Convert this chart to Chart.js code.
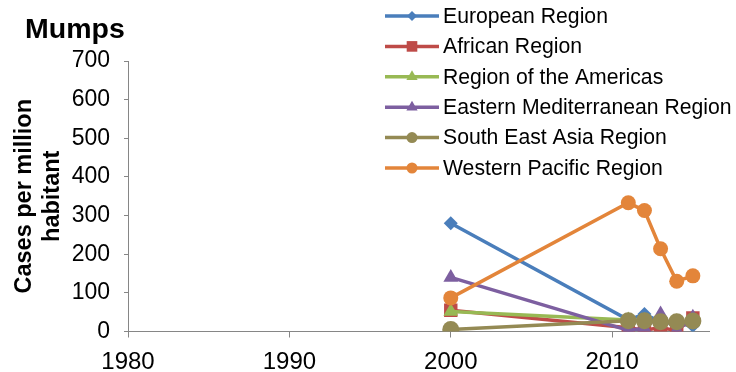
<!DOCTYPE html>
<html>
<head>
<meta charset="utf-8">
<script src="https://cdn.jsdelivr.net/npm/chart.js@4"></script>
<style>
  html,body{margin:0;padding:0;background:#fff}
  canvas{display:block}
</style>
</head>
<body>
<canvas id="mumpsChart" width="736" height="372"></canvas>
<script>
// data
const chartTitle = 'Mumps';
const yTitle = ['Cases per million', 'habitant'];
const years = [2000, 2011, 2012, 2013, 2014, 2015];
const european      = [280, 30, 45, 25, 20, 15];
const african       = [55, 10, 3, 10, 2, 35];
const americas      = [52, 30, 28, 25, 25, 25];
const easternMed    = [140, 3, 8, 45, 3, 37];
const southEastAsia = [5, 28, 28, 25, 25, 27];
const westernPac    = [87, 333, 313, 214, 130, 144];
const regionNames = ['European Region', 'African Region', 'Region of the Americas',
  'Eastern Mediterranean Region', 'South East Asia Region', 'Western Pacific Region'];
const xTicks = [1980, 1990, 2000, 2010];
const yTicks = [0, 100, 200, 300, 400, 500, 600, 700];

const FONT = '"Liberation Sans", Arial, sans-serif';
const colors = ['#4A7EBB', '#BE4B48', '#98B954', '#7D5FA0', '#948A54', '#E3853A'];
const markers = ['rectRot', 'rect', 'triangle', 'triangle', 'circle', 'circle'];
const sizes = [7, 9.5, 8.5, 8.5, 8.5, 7.5];
const legendSizes = [5, 7.5, 6.5, 6.5, 5.5, 5.5];

const allSeries = [european, african, americas, easternMed, southEastAsia, westernPac];

function drawMarker(ctx, style, r, x, y){
  if (Chart.helpers && Chart.helpers.drawPoint) {
    Chart.helpers.drawPoint(ctx, {pointStyle: style, radius: r, rotation: 0, borderWidth: 0}, x, y);
    return;
  }
  ctx.beginPath();
  ctx.arc(x, y, r, 0, Math.PI * 2);
  ctx.fill();
}

const chrome = {
  id: 'chrome',
  afterDraw(chart){
    const ctx = chart.ctx;
    ctx.save();
    ctx.fillStyle = '#000';
    ctx.textAlign = 'left';
    ctx.textBaseline = 'middle';
    ctx.font = 'bold 28.5px ' + FONT;
    ctx.fillText(chartTitle, 25, 30);
    // legend, drawn over the plot like the original
    ctx.font = '21.2px ' + FONT;
    chart.data.datasets.forEach((ds, i) => {
      const y = 16 + i * 30.4;
      ctx.strokeStyle = ds.borderColor;
      ctx.lineWidth = 3.5;
      ctx.beginPath(); ctx.moveTo(385, y); ctx.lineTo(439, y); ctx.stroke();
      ctx.fillStyle = ds.borderColor;
      drawMarker(ctx, markers[i], legendSizes[i], 412, y);
      ctx.fillStyle = '#000';
      ctx.fillText(ds.label, 443, y + 1);
    });
    ctx.restore();
  }
};

new Chart(document.getElementById('mumpsChart'), {
  type: 'line',
  data: {
    datasets: allSeries.map((s, i) => ({
      label: regionNames[i],
      data: years.map((x, j) => ({x: x, y: s[j]})),
      borderColor: colors[i],
      backgroundColor: colors[i],
      pointBackgroundColor: colors[i],
      pointBorderWidth: 0,
      pointStyle: markers[i],
      pointRadius: sizes[i],
      borderWidth: 3.5,
      tension: 0,
      order: allSeries.length - i
    }))
  },
  options: {
    responsive: false,
    animation: false,
    layout: {padding: {top: 61, left: 10, right: 27, bottom: 0}},
    plugins: {legend: {display: false}, tooltip: {enabled: false}, title: {display: false}},
    scales: {
      x: {
        type: 'linear', min: 1980, max: 2016,
        afterBuildTicks: s => { s.ticks = xTicks.map(v => ({value: v})); },
        afterFit: s => { s.height = 40.5; },
        border: {color: '#868686', width: 1},
        grid: {drawOnChartArea: false, tickLength: 6, color: '#868686'},
        ticks: {font: {family: FONT, size: 24}, color: '#000', padding: 10, maxRotation: 0, autoSkip: false,
          callback: v => String(v)}
      },
      y: {
        min: 0, max: 700,
        afterBuildTicks: s => { s.ticks = yTicks.map(v => ({value: v})); },
        afterFit: s => { s.width = 118; },
        border: {color: '#868686', width: 1},
        grid: {drawOnChartArea: false, tickLength: 4, color: '#868686'},
        ticks: {font: {family: FONT, size: 23}, color: '#000', padding: 14, callback: v => String(v)},
        title: {display: true, text: yTitle, color: '#000',
          font: {family: FONT, size: 23.5, weight: 'bold'}, padding: {top: 0, bottom: 0}}
      }
    }
  },
  plugins: [chrome]
});
</script>
</body>
</html>
